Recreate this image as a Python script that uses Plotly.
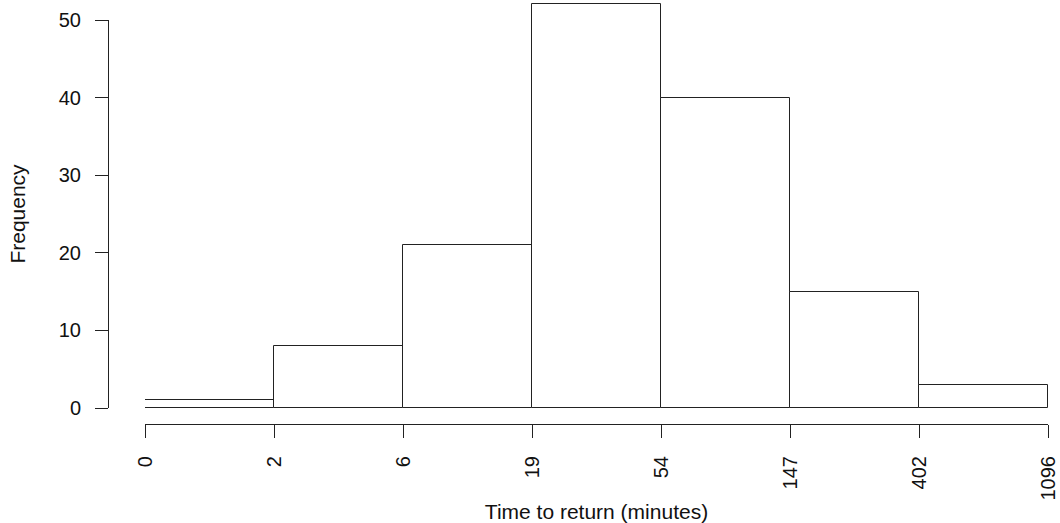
import plotly.graph_objects as go

# Histogram data (bins on a log-like scale, drawn with equal widths)
break_labels = ["0", "2", "6", "19", "54", "147", "402", "1096"]
counts = [1, 8, 21, 52, 40, 15, 3]
y_ticks = [0, 10, 20, 30, 40, 50]

x_centers = [i + 0.5 for i in range(len(counts))]
x_tickvals = list(range(len(break_labels)))

W, H = 1060, 523
L, R, T, B = 108, 12, 0, 99
plot_w = W - L - R
plot_h = H - T - B
x0_px = 145
y0_px, y50_px = 408, 20
k = (y0_px - y50_px) / 50.0  # px per count
y_lo = -(T + plot_h - y0_px) / k
y_hi = (y0_px - T) / k

tick_font = dict(family="Liberation Sans, Arial, sans-serif", size=20, color="#111111")
title_font = dict(family="Liberation Sans, Arial, sans-serif", size=21, color="#111111")
ink = "#222222"

fig = go.Figure()
fig.add_trace(go.Bar(
    x=x_centers,
    y=counts,
    width=1,
    marker=dict(color="white", line=dict(color=ink, width=1)),
    hoverinfo="x+y",
    xaxis="x", yaxis="y",
))
# invisible helper trace so the detached R-style y axis (0..50) is drawn
fig.add_trace(go.Scatter(
    x=[None], y=[None], mode="markers", xaxis="x", yaxis="y2",
    hoverinfo="skip", showlegend=False,
))

fig.update_layout(
    width=W, height=H,
    margin=dict(l=L, r=R, t=T, b=B, autoexpand=False),
    paper_bgcolor="white",
    plot_bgcolor="rgba(0,0,0,0)",
    showlegend=False,
    font=tick_font,
    bargap=0,
    xaxis=dict(
        domain=[(x0_px - L) / plot_w, 1],
        range=[0, len(counts)],
        anchor="free",
        position=0,
        showline=True, linecolor=ink, linewidth=1,
        ticks="outside", ticklen=13, tickwidth=1, tickcolor=ink,
        tickvals=x_tickvals, ticktext=break_labels,
        tickangle=-90,
        ticklabelstandoff=10,
        showgrid=False, zeroline=False,
        tickfont=tick_font,
        title=dict(text="Time to return (minutes)", font=title_font, standoff=8),
    ),
    yaxis=dict(
        domain=[0, 1],
        range=[y_lo, y_hi],
        anchor="free", position=0,
        visible=False,
        showgrid=False, zeroline=False,
    ),
    yaxis2=dict(
        domain=[(T + plot_h - y0_px) / plot_h, (T + plot_h - y50_px) / plot_h],
        range=[0, 50],
        anchor="free",
        position=0,
        showline=True, linecolor=ink, linewidth=1,
        ticks="outside", ticklen=13, tickwidth=1, tickcolor=ink,
        tickvals=y_ticks,
        ticklabelstandoff=10,
        showgrid=False, zeroline=False,
        tickfont=tick_font,
        title=dict(text="Frequency", font=title_font, standoff=26),
    ),
)

fig.write_html(
    "out.html",
    config={"displayModeBar": False},
    post_script="document.body.style.margin='0';document.body.style.padding='0';",
)
